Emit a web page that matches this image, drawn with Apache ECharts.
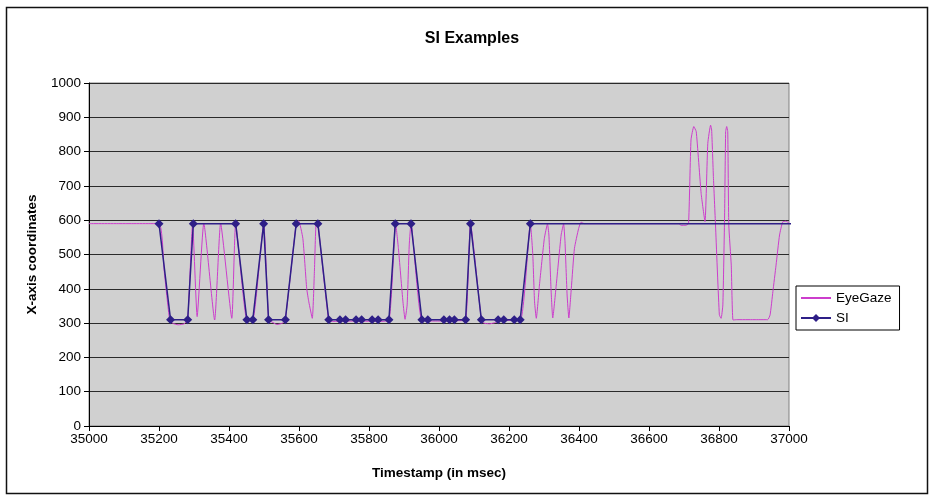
<!DOCTYPE html>
<html>
<head>
<meta charset="utf-8">
<script src="https://cdn.jsdelivr.net/npm/echarts@6/dist/echarts.min.js"></script>
<style>
  html, body { margin: 0; padding: 0; background: #fff; }
  #chart { width: 930px; height: 495px; }
</style>
</head>
<body>
<div id="chart"></div>
<script>
  // eye gaze samples (timestamp, x coordinate)
  var eyeTime = [35000, 35100, 35200, 35215, 35230, 35238, 35255, 35272, 35282, 35296,
    35309, 35328, 35359, 35376, 35408, 35419, 35451, 35468, 35499, 35513,
    35520, 35537, 35553, 35561, 35592, 35599, 35611, 35622, 35628, 35638,
    35644, 35649, 35654, 35685, 35700, 35760, 35820, 35857, 35876, 35884,
    35897, 35903, 35909, 35915, 35920, 35951, 36000, 36050, 36076, 36090,
    36121, 36128, 36145, 36162, 36169, 36232, 36261, 36268, 36273, 36278,
    36287, 36301, 36310, 36314, 36320, 36325, 36335, 36349, 36356, 36360,
    36366, 36371, 36378, 36387, 36399, 36406, 36415, 36550, 36685, 36692,
    36705, 36713, 36720, 36728, 36735, 36749, 36760, 36768, 36776, 36779,
    36784, 36790, 36801, 36806, 36811, 36816, 36819, 36822, 36825, 36828,
    36835, 36840, 36850, 36900, 36939, 36946, 36954, 36963, 36973, 36982,
    36991, 37000]
  var eyeValue = [590, 590, 590, 450, 312, 300, 295, 298, 310, 590,
    319, 591, 309, 591, 314, 590, 310, 310, 590, 310,
    305, 296, 300, 310, 590, 598, 547, 401, 362, 314,
    450, 591, 590, 308, 305, 306, 305, 308, 590, 518,
    362, 311, 353, 528, 590, 308, 306, 307, 308, 590,
    310, 300, 298, 302, 308, 308, 590, 499, 362, 314,
    411, 547, 589, 557, 401, 315, 411, 557, 589, 537,
    382, 315, 401, 518, 576, 594, 590, 590, 590, 585,
    585, 590, 834, 873, 858, 678, 596, 824, 877, 863,
    727, 586, 324, 314, 353, 615, 858, 873, 858, 586,
    469, 309, 310, 310, 310, 324, 392, 469, 557, 595,
    597, 592]

  // SI points
  var siTime = [35200, 35233, 35282, 35298, 35419, 35451, 35468, 35499, 35513, 35561,
    35592, 35654, 35685, 35717, 35733, 35763, 35779, 35809, 35826, 35857,
    35875, 35920, 35951, 35968, 36014, 36030, 36044, 36076, 36090, 36121,
    36169, 36185, 36215, 36232, 36261, 37400]
  var siValue = [590, 310, 310, 590, 590, 310, 310, 590, 310, 310,
    590, 590, 310, 310, 310, 310, 310, 310, 310, 310,
    590, 590, 310, 310, 310, 310, 310, 310, 590, 310,
    310, 310, 310, 310, 590, 590]

  var xMin = 35000
  var xMax = 37000

  var chart = echarts.init(document.getElementById('chart'))

  var eyeData = eyeTime.map(function (t, i) {
    return [t, eyeValue[i]]
  })
  var siData = siTime.map(function (t, i) {
    var item = { value: [t, siValue[i]] }
    if (t > xMax) {
      item.symbol = 'none'
    }
    return item
  })

  var fontName = 'Liberation Sans, Arial, sans-serif'
  var plain = function (v) { return String(v) }

  chart.setOption({
    animation: false,
    backgroundColor: '#fff',
    title: {
      text: 'SI Examples',
      left: 467,
      top: 26,
      textAlign: 'center',
      textStyle: { fontFamily: fontName, fontSize: 16, fontWeight: 'bold', color: '#000' }
    },
    graphic: [{
      type: 'rect',
      shape: { x: 6.5, y: 7.5, width: 921, height: 486 },
      style: { fill: 'none', stroke: '#111', lineWidth: 1.5 },
      silent: true
    }],
    legend: {
      orient: 'vertical',
      left: 796,
      top: 286,
      padding: [5, 8, 5, 4],
      itemGap: 6,
      itemWidth: 30,
      itemHeight: 10,
      borderColor: '#000',
      borderWidth: 1,
      backgroundColor: '#fff',
      textStyle: { fontFamily: fontName, fontSize: 13.5, color: '#000' },
      data: [{ name: 'EyeGaze', itemStyle: { opacity: 0 } }, 'SI']
    },
    grid: {
      left: 89,
      top: 83,
      right: 141,
      bottom: 69,
      show: true,
      backgroundColor: '#d0d0d0',
      borderColor: '#808080',
      borderWidth: 1
    },
    xAxis: {
      type: 'value',
      min: xMin,
      max: xMax,
      interval: 200,
      name: 'Timestamp (in msec)',
      nameLocation: 'middle',
      nameGap: 40,
      nameTextStyle: { fontFamily: fontName, fontSize: 13.5, fontWeight: 'bold', color: '#000' },
      axisLine: { onZero: false, lineStyle: { color: '#000', width: 1 } },
      axisTick: { show: true, length: 5, lineStyle: { color: '#000' } },
      axisLabel: { margin: 6, fontFamily: fontName, fontSize: 13.5, color: '#000', formatter: plain },
      splitLine: { show: false }
    },
    yAxis: {
      type: 'value',
      min: 0,
      max: 1000,
      interval: 100,
      name: 'X-axis coordinates',
      nameLocation: 'middle',
      nameGap: 50,
      nameTextStyle: { fontFamily: fontName, fontSize: 13.5, fontWeight: 'bold', color: '#000' },
      axisLine: { show: true, lineStyle: { color: '#000', width: 1 } },
      axisTick: { show: true, length: 5, lineStyle: { color: '#000' } },
      axisLabel: { margin: 8, fontFamily: fontName, fontSize: 13.5, color: '#000', formatter: plain },
      splitLine: { show: true, lineStyle: { color: '#2a2a2a', width: 1 } }
    },
    series: [{
      name: 'EyeGaze',
      type: 'line',
      data: eyeData,
      showSymbol: false,
      symbol: 'none',
      smooth: 0.15,
      lineStyle: { color: '#cc3dcc', width: 1 },
      itemStyle: { color: '#cc3dcc' },
      z: 2
    }, {
      name: 'SI',
      type: 'line',
      data: siData,
      symbol: 'diamond',
      symbolSize: 9,
      lineStyle: { color: '#2e1f87', width: 1.5 },
      itemStyle: { color: '#2e1f87' },
      z: 3
    }]
  })
</script>
</body>
</html>
